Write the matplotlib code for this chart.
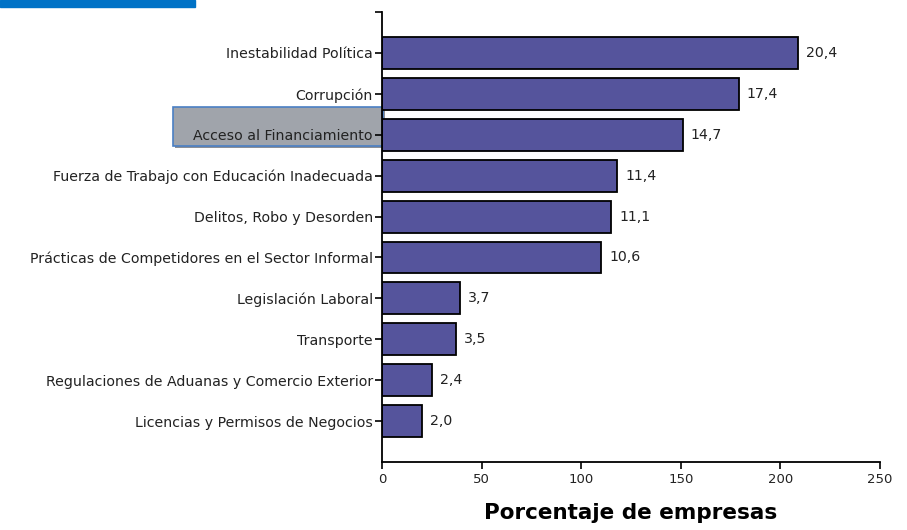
import matplotlib.pyplot as plt
from matplotlib.patches import Rectangle

# categories top to bottom
categories = [
    "Inestabilidad Política",
    "Corrupción",
    "Acceso al Financiamiento",
    "Fuerza de Trabajo con Educación Inadecuada",
    "Delitos, Robo y Desorden",
    "Prácticas de Competidores en el Sector Informal",
    "Legislación Laboral",
    "Transporte",
    "Regulaciones de Aduanas y Comercio Exterior",
    "Licencias y Permisos de Negocios",
]
# bar lengths as drawn against the axis
bar_lengths = [209, 179, 151, 118, 115, 110, 39, 37, 25, 20]
# values written next to the bars
bar_labels = [20.4, 17.4, 14.7, 11.4, 11.1, 10.6, 3.7, 3.5, 2.4, 2.0]
x_ticks = [0, 50, 100, 150, 200, 250]

BAR_COLOR = "#55549c"
TEXT_COLOR = "#222222"
LABEL_SIZE = 10.2

fig = plt.figure(figsize=(9.07, 5.30), dpi=100)
ax = fig.add_axes([382 / 907, 1 - 462 / 530, 498 / 907, 450 / 530])
ax.patch.set_alpha(0)

n = len(categories)
ypos = [n - 1 - i for i in range(n)]
ax.barh(ypos, bar_lengths, height=0.78, color=BAR_COLOR,
        edgecolor="black", linewidth=1.3, zorder=2)

for y, w, v in zip(ypos, bar_lengths, bar_labels):
    ax.text(w + 4, y, f"{v:.1f}".replace(".", ","), va="center", ha="left",
            fontsize=LABEL_SIZE, color=TEXT_COLOR)

ax.set_xlim(0, 250)
ax.set_ylim(-1, n)
ax.set_xticks(x_ticks)
ax.set_xticklabels([str(t) for t in x_ticks], fontsize=9.5, color=TEXT_COLOR)
ax.set_yticks(ypos + [n])
ax.set_yticklabels(categories + [""], fontsize=LABEL_SIZE, color=TEXT_COLOR)
ax.tick_params(axis="both", length=5, width=1.2, colors="black",
               labelcolor=TEXT_COLOR, pad=1.5)
ax.tick_params(axis="x", pad=3)

for side in ("top", "right"):
    ax.spines[side].set_visible(False)
for side in ("left", "bottom"):
    ax.spines[side].set_linewidth(1.3)

ax.set_xlabel("Porcentaje de empresas", fontsize=15.5, fontweight="bold",
              color="black", labelpad=12)

# blue strip at top-left corner
fig.patches.append(Rectangle((0, 1 - 7 / 530), 195 / 907, 7 / 530,
                             transform=fig.transFigure, color="#0072c6",
                             zorder=-1))
# highlight box around one category label
fig.patches.append(Rectangle((175 / 907, 1 - 148 / 530), 210 / 907, 39 / 530,
                             transform=fig.transFigure, facecolor="#8c8f95",
                             edgecolor="none", zorder=-3))
fig.patches.append(Rectangle((173 / 907, 1 - 146 / 530), 210 / 907, 39 / 530,
                             transform=fig.transFigure, facecolor="#a0a4ab",
                             edgecolor="#4a7fc4", linewidth=1.2, zorder=-2))

fig.savefig("out.png", dpi=100)
